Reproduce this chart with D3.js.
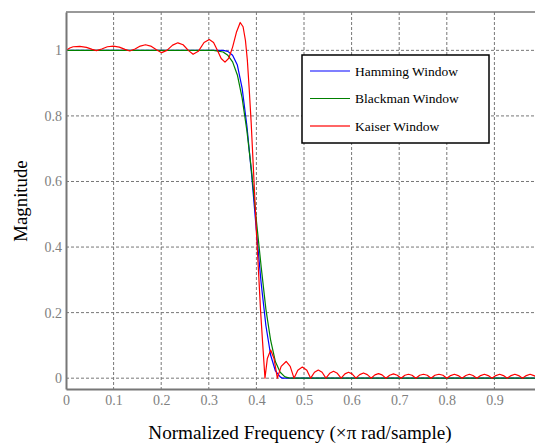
<!DOCTYPE html>
<html>
<head>
<meta charset="utf-8">
<script src="https://cdn.jsdelivr.net/npm/d3@7"></script>
<style>
    body { margin: 0; background: #fff; }
    svg { display: block; font-family: 'Liberation Serif', 'Times New Roman', serif; }
</style>
</head>
<body>
<svg id="chart"></svg>
<script>
// Tick values
const xTicks = [0, 0.1, 0.2, 0.3, 0.4, 0.5, 0.6, 0.7, 0.8, 0.9];
const yTicks = [0, 0.2, 0.4, 0.6, 0.8, 1];

// Hamming window response
const hammingFreq = [0, 0.33, 0.34, 0.35, 0.36, 0.37, 0.38, 0.39, 0.395, 0.40, 0.41, 0.42, 0.43, 0.44, 0.45, 0.455, 1];
const hammingMag = [1, 1, 0.997, 0.985, 0.955, 0.885, 0.77, 0.62, 0.535, 0.45, 0.29, 0.16, 0.07, 0.022, 0.004, 0, 0];

// Blackman window response
const blackmanFreq = [0, 0.31, 0.33, 0.34, 0.35, 0.36, 0.37, 0.38, 0.39, 0.40, 0.41, 0.42, 0.43, 0.44, 0.45, 0.46, 0.47, 1];
const blackmanMag = [1, 1, 0.995, 0.985, 0.965, 0.925, 0.855, 0.755, 0.63, 0.48, 0.34, 0.21, 0.115, 0.05, 0.018, 0.004, 0, 0];

// Kaiser window response: passband ripple, transition, then stopband lobes
const kaiserFreq = [
    0, 0.008, 0.015, 0.029, 0.043, 0.055, 0.064, 0.075, 0.087, 0.0995,
    0.112, 0.124, 0.134, 0.145, 0.156, 0.167, 0.178, 0.19, 0.201, 0.212,
    0.224, 0.235, 0.246, 0.257, 0.267, 0.278, 0.29, 0.301, 0.31, 0.318,
    0.326, 0.334, 0.342, 0.35, 0.358, 0.366, 0.372, 0.377, 0.381, 0.385,
    0.389, 0.393, 0.397, 0.401, 0.405, 0.409, 0.413, 0.418,
    0.423, 0.43, 0.437, 0.444,
    0.452, 0.4625, 0.471, 0.479,
    0.487, 0.4965, 0.506, 0.514,
    0.522, 0.53, 0.538, 0.546,
    0.554, 0.562, 0.57, 0.578,
    0.586, 0.5935, 0.601, 0.609,
    0.617, 0.625, 0.633, 0.641,
    0.649, 0.6565, 0.664, 0.672,
    0.68, 0.688, 0.696, 0.704,
    0.712, 0.7195, 0.727, 0.735,
    0.743, 0.751, 0.759, 0.767,
    0.775, 0.7835, 0.792, 0.8,
    0.808, 0.816, 0.824, 0.832,
    0.84, 0.8475, 0.855, 0.863,
    0.871, 0.879, 0.887, 0.895,
    0.903, 0.911, 0.919, 0.927,
    0.935, 0.943, 0.951, 0.959,
    0.967, 0.975, 0.983, 0.991,
    1
];
const kaiserMag = [
    1, 1.007, 1.011, 1.012, 1.009, 1.003, 0.999, 1.004, 1.011, 1.013,
    1.01, 1.003, 0.998, 1.004, 1.013, 1.017, 1.013, 1.002, 0.993, 1,
    1.016, 1.023, 1.017, 1, 0.988, 0.997, 1.024, 1.033, 1.024, 1,
    0.975, 0.964, 0.976, 1.01, 1.055, 1.085, 1.072, 1.03, 0.97, 0.88,
    0.78, 0.66, 0.54, 0.42, 0.31, 0.2, 0.11, 0,
    0.06, 0.086, 0.06, 0,
    0.036, 0.051, 0.036, 0,
    0.024, 0.034, 0.024, 0,
    0.018, 0.025, 0.018, 0,
    0.015, 0.021, 0.015, 0,
    0.013, 0.018, 0.013, 0,
    0.011, 0.016, 0.011, 0,
    0.01, 0.014, 0.01, 0,
    0.009, 0.013, 0.009, 0,
    0.009, 0.012, 0.009, 0,
    0.009, 0.012, 0.009, 0,
    0.009, 0.012, 0.009, 0,
    0.008, 0.012, 0.008, 0,
    0.008, 0.012, 0.008, 0,
    0.008, 0.012, 0.008, 0,
    0.008, 0.012, 0.008, 0,
    0.008, 0.012, 0.008, 0,
    0.008, 0.012, 0.008, 0,
    0.005
];

const seriesNames = ['Hamming Window', 'Blackman Window', 'Kaiser Window'];
const seriesColours = ['#0000ff', '#008000', '#ff0000'];

const width = 535;
const height = 443;

const svg = d3.select('#chart')
    .attr('width', width)
    .attr('height', height);

svg.append('rect')
    .attr('width', width)
    .attr('height', height)
    .attr('fill', '#fff');

// Scales - the plot box runs past the right edge of the picture
const x = d3.scaleLinear().domain([0, 1]).range([66, 542]);
const y = d3.scaleLinear().domain([-0.033, 1.117]).range([389, 12]);

const plotTop = y(1.117);
const plotBottom = y(-0.033);

// Dashed grid
const grid = svg.append('g')
    .attr('stroke', '#777')
    .attr('stroke-width', 1)
    .attr('stroke-dasharray', '3,2');

grid.selectAll('.vgrid')
    .data(xTicks.filter(d => d > 0))
    .enter()
    .append('line')
    .attr('class', 'vgrid')
    .attr('x1', d => x(d))
    .attr('x2', d => x(d))
    .attr('y1', plotTop)
    .attr('y2', plotBottom);

grid.selectAll('.hgrid')
    .data(yTicks)
    .enter()
    .append('line')
    .attr('class', 'hgrid')
    .attr('x1', x(0))
    .attr('x2', x(1))
    .attr('y1', d => y(d))
    .attr('y2', d => y(d));

// Clip the curves to the axes box
svg.append('clipPath')
    .attr('id', 'plot-clip')
    .append('rect')
    .attr('x', x(0))
    .attr('y', plotTop)
    .attr('width', x(1) - x(0))
    .attr('height', plotBottom - plotTop);

const series = [
    { freq: hammingFreq, mag: hammingMag },
    { freq: blackmanFreq, mag: blackmanMag },
    { freq: kaiserFreq, mag: kaiserMag }
];

const line = d3.line()
    .x(d => x(d[0]))
    .y(d => y(d[1]));

svg.append('g')
    .attr('clip-path', 'url(#plot-clip)')
    .selectAll('path')
    .data(series)
    .enter()
    .append('path')
    .attr('d', s => line(s.freq.map((f, i) => [f, s.mag[i]])))
    .attr('fill', 'none')
    .attr('stroke', (s, i) => seriesColours[i])
    .attr('stroke-width', 1.2)
    .attr('stroke-linejoin', 'round');

// Axes
const xAxis = svg.append('g')
    .attr('transform', `translate(0,${plotBottom})`)
    .call(d3.axisBottom(x).tickValues(xTicks).tickFormat(d3.format('')).tickSize(0).tickSizeOuter(0).tickPadding(6));

const yAxis = svg.append('g')
    .attr('transform', `translate(${x(0)},0)`)
    .call(d3.axisLeft(y).tickValues(yTicks).tickFormat(d3.format('')).tickSize(0).tickSizeOuter(0).tickPadding(4));

[xAxis, yAxis].forEach(axis => {
    axis.attr('font-family', null);
    axis.select('.domain').attr('stroke', '#777').attr('stroke-width', 2);
    axis.selectAll('text')
        .attr('fill', '#808080')
        .style('font-family', "'Liberation Serif', 'Times New Roman', serif")
        .style('font-size', '14px');
});

// Top edge of the box
svg.append('line')
    .attr('x1', x(0))
    .attr('x2', x(1))
    .attr('y1', plotTop)
    .attr('y2', plotTop)
    .attr('stroke', '#777')
    .attr('stroke-width', 1.5);

// Axis titles
svg.append('text')
    .attr('x', 300)
    .attr('y', 439)
    .attr('text-anchor', 'middle')
    .attr('font-size', 19.2)
    .attr('fill', '#000')
    .text('Normalized Frequency (×π rad/sample)');

svg.append('text')
    .attr('transform', 'translate(27,201) rotate(-90)')
    .attr('text-anchor', 'middle')
    .attr('font-size', 18.8)
    .attr('fill', '#000')
    .text('Magnitude');

// Legend
const legend = svg.append('g').attr('transform', 'translate(302,55)');

legend.append('rect')
    .attr('width', 187)
    .attr('height', 88)
    .attr('fill', '#fff')
    .attr('stroke', '#000')
    .attr('stroke-width', 1.5);

const item = legend.selectAll('.item')
    .data(seriesNames)
    .enter()
    .append('g')
    .attr('class', 'item')
    .attr('transform', (d, i) => `translate(0,${16 + i * 27.5})`);

item.append('line')
    .attr('x1', 8)
    .attr('x2', 48)
    .attr('stroke', (d, i) => seriesColours[i])
    .attr('stroke-width', (d, i) => i === 2 ? 1.8 : 1.2)
    .attr('stroke-opacity', (d, i) => i === 2 ? 0.6 : 1);

item.append('text')
    .attr('x', 53)
    .attr('dy', '0.35em')
    .attr('font-size', 13.5)
    .attr('fill', '#000')
    .text(d => d);
</script>
</body>
</html>
